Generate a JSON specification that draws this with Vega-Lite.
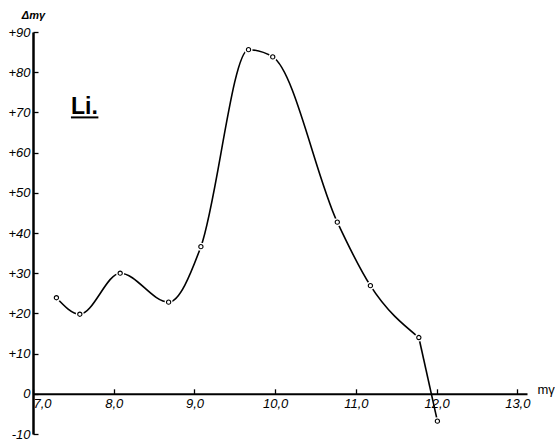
{
  "$schema": "https://vega.github.io/schema/vega-lite/v6.json",
  "width": 494,
  "height": 402,
  "autosize": {"type": "none"},
  "padding": {"left": 33, "top": 32, "right": 28, "bottom": 7},
  "background": "white",
  "config": {"view": {"stroke": null}, "font": "Liberation Sans"},
  "datasets": {
    "points": [
      {"m": 7.29, "dm": 23.9},
      {"m": 7.58, "dm": 19.8},
      {"m": 8.08, "dm": 30.0},
      {"m": 8.68, "dm": 22.8},
      {"m": 9.08, "dm": 36.6},
      {"m": 9.67, "dm": 85.6},
      {"m": 9.97, "dm": 83.8},
      {"m": 10.77, "dm": 42.7},
      {"m": 11.18, "dm": 26.9},
      {"m": 11.78, "dm": 14.0},
      {"m": 12.01, "dm": -6.8}
    ],
    "curve": [
      {"m": 7.29, "dm": 23.9},
      {"m": 7.58, "dm": 19.8},
      {"m": 8.08, "dm": 30.0},
      {"m": 8.68, "dm": 22.8},
      {"m": 9.08, "dm": 36.6},
      {"m": 9.67, "dm": 85.6},
      {"m": 9.97, "dm": 83.8},
      {"m": 10.77, "dm": 42.7},
      {"m": 11.18, "dm": 26.9},
      {"m": 11.78, "dm": 14.0}
    ],
    "tail": [
      {"m": 11.78, "dm": 14.0},
      {"m": 12.01, "dm": -6.8}
    ],
    "label": [{"m": 7.47, "m2": 7.81, "dm": 69.5, "text": "Li."}]
  },
  "layer": [
    {
      "data": {"name": "curve"},
      "mark": {"type": "line", "interpolate": "monotone", "color": "black", "strokeWidth": 1.6},
      "encoding": {
        "x": {
          "field": "m", "type": "quantitative",
          "scale": {"domain": [7.0, 13.12], "nice": false, "zero": false},
          "axis": {
            "values": [7, 8, 9, 10, 11, 12, 13],
            "labelExpr": "replace(format(datum.value, '.1f'), '.', ',')",
            "offset": -40.2,
            "grid": false,
            "domainColor": "black", "domainWidth": 2,
            "tickColor": "black", "tickSize": -5, "tickWidth": 1.3,
            "labelFlush": true,
            "labelFont": "Liberation Sans", "labelFontStyle": "italic", "labelFontSize": 13,
            "labelColor": "black", "labelPadding": 9,
            "title": "mγ",
            "titleFont": "Liberation Sans", "titleFontSize": 13, "titleFontWeight": "normal",
            "titleColor": "black",
            "titleX": 504, "titleY": -4, "titleAlign": "left", "titleBaseline": "middle"
          }
        },
        "y": {
          "field": "dm", "type": "quantitative",
          "scale": {"domain": [-10, 90], "nice": false, "zero": false},
          "axis": {
            "values": [-10, 0, 10, 20, 30, 40, 50, 60, 70, 80, 90],
            "labelExpr": "datum.value > 0 ? '+' + datum.value : (datum.value == 0 ? '0' : '-10')",
            "grid": false,
            "domainColor": "black", "domainWidth": 2.5,
            "tickColor": "black", "tickSize": -5, "tickWidth": 1.3,
            "labelFont": "Liberation Sans", "labelFontStyle": "italic", "labelFontSize": 13,
            "labelColor": "black", "labelPadding": 8,
            "title": "Δmγ",
            "titleFont": "Liberation Sans", "titleFontSize": 11, "titleFontWeight": "bold",
            "titleFontStyle": "italic", "titleColor": "black",
            "titleAngle": 0, "titleX": 0, "titleY": -17, "titleAlign": "center", "titleBaseline": "middle"
          }
        }
      }
    },
    {
      "data": {"name": "tail"},
      "mark": {"type": "line", "interpolate": "linear", "color": "black", "strokeWidth": 1.6},
      "encoding": {
        "x": {"field": "m", "type": "quantitative"},
        "y": {"field": "dm", "type": "quantitative"}
      }
    },
    {
      "data": {"name": "points"},
      "mark": {"type": "point", "shape": "circle", "filled": true, "fill": "white", "stroke": "white", "strokeWidth": 2.5, "size": 30, "opacity": 1},
      "encoding": {
        "x": {"field": "m", "type": "quantitative"},
        "y": {"field": "dm", "type": "quantitative"}
      }
    },
    {
      "data": {"name": "points"},
      "mark": {"type": "point", "shape": "circle", "filled": false, "stroke": "black", "strokeWidth": 1.1, "size": 18, "opacity": 1},
      "encoding": {
        "x": {"field": "m", "type": "quantitative"},
        "y": {"field": "dm", "type": "quantitative"}
      }
    },
    {
      "data": {"name": "label"},
      "mark": {"type": "text", "align": "left", "baseline": "alphabetic", "font": "Liberation Sans", "fontWeight": "bold", "fontSize": 23, "color": "black"},
      "encoding": {
        "x": {"field": "m", "type": "quantitative"},
        "y": {"field": "dm", "type": "quantitative"},
        "text": {"field": "text"}
      }
    },
    {
      "data": {"name": "label"},
      "mark": {"type": "rule", "color": "black", "strokeWidth": 2},
      "encoding": {
        "x": {"field": "m", "type": "quantitative"},
        "x2": {"field": "m2"},
        "y": {"field": "dm", "type": "quantitative"},
        "yOffset": {"value": 3}
      }
    }
  ]
}
